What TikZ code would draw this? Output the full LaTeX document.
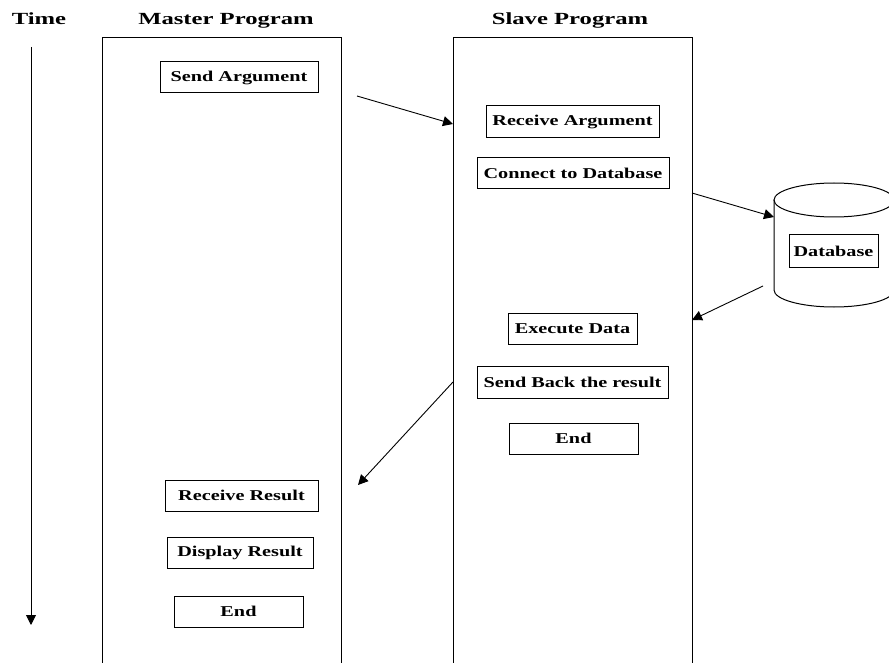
\documentclass[tikz,border=0pt]{standalone}
\usepackage{fontspec}
\setmainfont{Liberation Serif}[FakeStretch=1.35]
\newfontfamily\titlefont{Liberation Serif}[FakeStretch=1.45]
\usetikzlibrary{arrows.meta}
\tikzset{
  stepbox/.style={draw, line width=1pt, inner sep=0pt, align=center,
    font=\fontsize{15}{18}\selectfont\bfseries},
  titletext/.style={inner sep=0pt, anchor=base, font=\titlefont\fontsize{17}{20}\selectfont\bfseries},
  frame/.style={draw, line width=1pt},
  flow/.style={draw, line width=0.9pt, -{Triangle[length=10pt,width=10pt]}}
}
\begin{document}
\begin{tikzpicture}[x=1pt,y=-1pt]
\clip (0,0) rectangle (889,663);
\fill[white] (0,0) rectangle (889,663);
% titles
\node[titletext] (ttime) at (39,25) {Time};
\node[titletext] (tmaster) at (226,25) {Master Program};
\node[titletext] (tslave) at (570,25) {Slave Program};
% time arrow
\coordinate (tstart) at (31,47);
\coordinate (tend) at (31,625);
\draw[flow] (tstart) -- (tend);
% frames
\draw[frame] (102,680) -- (102,38) -- (341,38) -- (341,680);
\draw[frame] (453,680) -- (453,38) -- (692,38) -- (692,680);
% master boxes
\node[stepbox, minimum width=158, minimum height=31] (sendarg) at (239,77.5) {Send Argument};
\node[stepbox, minimum width=153, minimum height=31] (recvres) at (241.5,495.5) {Receive Result};
\node[stepbox, minimum width=146, minimum height=31] (dispres) at (240,552.5) {Display Result};
\node[stepbox, minimum width=129, minimum height=31] (endm) at (238.5,611.5) {End};
% slave boxes
\node[stepbox, minimum width=173, minimum height=32] (recvarg) at (572.5,122) {Receive Argument};
\node[stepbox, minimum width=192, minimum height=31] (connect) at (573,173.5) {Connect to Database};
\node[stepbox, minimum width=129, minimum height=31] (execute) at (572.5,328.5) {Execute Data};
\node[stepbox, minimum width=191, minimum height=32] (sendback) at (572.5,382) {Send Back the result};
\node[stepbox, minimum width=129, minimum height=31] (ends) at (573.5,438.5) {End};
% database cylinder
\draw[line width=1pt, fill=white] (834,200) ellipse [x radius=60, y radius=17];
\draw[line width=1pt] (774,200) -- (774,290) arc[start angle=180, end angle=0, x radius=60, y radius=17] -- (894,200);
\node[stepbox, minimum width=89, minimum height=32] (db) at (833.5,251) {Database};
% connectors
\coordinate (a1s) at (357,96);
\coordinate (a1e) at (453,124);
\draw[flow] (a1s) -- (a1e);
\coordinate (a2s) at (692,193);
\coordinate (a2e) at (774,217);
\draw[flow] (a2s) -- (a2e);
\coordinate (a3s) at (763,286);
\coordinate (a3e) at (692,320);
\draw[flow] (a3s) -- (a3e);
\coordinate (a4s) at (453,382);
\coordinate (a4e) at (358,485);
\draw[flow] (a4s) -- (a4e);
\end{tikzpicture}
\end{document}
